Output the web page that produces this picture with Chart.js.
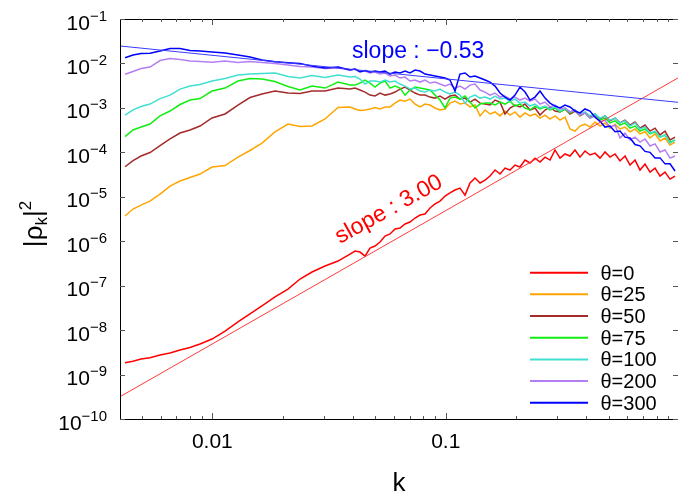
<!DOCTYPE html>
<html><head><meta charset="utf-8">
<script src="https://cdn.jsdelivr.net/npm/chart.js@4"></script>
<style>html,body{margin:0;padding:0;background:#fff;}canvas{display:block;}</style>
</head><body>
<canvas id="c" width="678" height="498"></canvas>
<script>
// wavenumber k
const k = [0.004227,0.004573,0.004950,0.005408,0.005970,0.006589,0.007272,0.008027,0.008858,0.009970,0.01134,0.01288,0.01450,0.01632,0.01856,0.02110,0.02375,0.02674,0.03040,0.03456,
0.03890,0.04088,0.04293,0.04510,0.04738,0.04978,0.05231,0.05494,0.05774,0.06066,0.06371,0.06693,0.07031,0.07388,0.07761,0.08153,0.08565,0.08999,0.09454,0.09931,
0.1043,0.1096,0.1151,0.1210,0.1271,0.1335,0.1403,0.1474,0.1548,0.1627,0.1709,0.1795,0.1886,0.1981,0.2081,0.2187,0.2297,0.2413,0.2535,0.2664,0.2798,0.2939,0.3088,0.3244,0.3408,0.3581,0.3762,0.3952,0.4152,0.4362,0.4582,0.4814,0.5058,0.5314,0.5582,0.5865,0.6161,0.6473,0.6800,0.7144,0.7505,0.7884,0.8283,0.8701,0.9141,0.9603];

const theta0 = [1.85e-9,2.0e-9,2.24e-9,2.4e-9,2.75e-9,3.05e-9,3.57e-9,4.06e-9,4.86e-9,6.3e-9,9.5e-9,1.53e-8,2.31e-8,3.49e-8,5.57e-8,8.4e-8,1.41e-7,2.03e-7,2.77e-7,3.58e-7,
5.15e-7,6.0e-7,5.7e-7,4.64e-7,7.0e-7,7.8e-7,9.6e-7,1.31e-6,1.46e-6,1.88e-6,1.98e-6,2.44e-6,2.71e-6,3.33e-6,3.89e-6,4.1e-6,5.6e-6,6.9e-6,8.0e-6,1.04e-5,
1.22e-5,1.42e-5,1.57e-5,1.09e-5,2.04e-5,2.64e-5,2.04e-5,2.38e-5,2.93e-5,4.0e-5,3.25e-5,4.43e-5,4.0e-5,5.18e-5,4.67e-5,6.7e-5,5.75e-5,7.4e-5,6.05e-5,7.8e-5,6.7e-5,1.13e-4,7.4e-5,9.2e-5,8.25e-5,1.13e-4,7.8e-5,1.07e-4,8.7e-5,9.6e-5,7.4e-5,1.02e-4,7.8e-5,9.2e-5,6.4e-5,8.25e-5,5.18e-5,6.7e-5,4.0e-5,5.45e-5,3.6e-5,4.43e-5,2.93e-5,3.6e-5,2.5e-5,2.93e-5];

const theta25 = [3.7e-6,5.3e-6,6.5e-6,8.0e-6,1.15e-5,1.74e-5,2.26e-5,2.71e-5,3.25e-5,4.67e-5,5.05e-5,7.8e-5,1.1e-4,1.62e-4,2.87e-4,4.34e-4,3.81e-4,3.91e-4,5.63e-4,1.02e-3,
1.05e-3,9.45e-4,8.7e-4,8.97e-4,9.45e-4,1.02e-3,9.45e-4,1.05e-3,1.05e-3,1.28e-3,1.5e-3,1.42e-3,1.58e-3,1.22e-3,1.05e-3,1.22e-3,1.16e-3,9.95e-4,8.97e-4,9.45e-4,
1.28e-3,1.42e-3,1.22e-3,1.28e-3,1.05e-3,1.16e-3,6.6e-4,8.97e-4,7.3e-4,8.1e-4,6.6e-4,8.5e-4,6.9e-4,8.1e-4,6.2e-4,7.7e-4,6.6e-4,7.3e-4,5.9e-4,6.9e-4,5.6e-4,6.6e-4,5.3e-4,6.2e-4,3.35e-4,3.0e-4,3.9e-4,4.3e-4,3.7e-4,4.8e-4,3.9e-4,4.6e-4,3.5e-4,4.3e-4,3.35e-4,3.7e-4,2.9e-4,3.35e-4,2.6e-4,2.9e-4,2.1e-4,2.6e-4,1.8e-4,2.1e-4,1.46e-4,1.7e-4];

const theta50 = [4.74e-5,6.5e-5,8.25e-5,9.9e-5,1.42e-4,2.0e-4,2.72e-4,3.18e-4,3.91e-4,5.93e-4,7.3e-4,1.16e-3,1.71e-3,2.05e-3,2.39e-3,2.16e-3,2.1e-3,2.39e-3,2.39e-3,2.79e-3,
2.65e-3,2.79e-3,2.52e-3,2.27e-3,1.94e-3,1.85e-3,2.16e-3,1.94e-3,2.05e-3,2.27e-3,2.65e-3,2.94e-3,2.52e-3,2.16e-3,1.94e-3,1.94e-3,1.75e-3,1.66e-3,1.85e-3,1.58e-3,
1.85e-3,1.94e-3,1.58e-3,1.66e-3,1.35e-3,1.58e-3,1.28e-3,1.22e-3,1.16e-3,1.5e-3,1.35e-3,7.3e-4,9.95e-4,1.16e-3,1.05e-3,1.22e-3,8.97e-4,9.95e-4,6.9e-4,8.97e-4,1.05e-3,8.5e-4,8.1e-4,9.45e-4,7.3e-4,8.5e-4,6.6e-4,7.7e-4,6.2e-4,7.3e-4,5.6e-4,6.6e-4,5.1e-4,5.9e-4,4.6e-4,5.3e-4,4.1e-4,4.8e-4,3.5e-4,4.1e-4,3.0e-4,3.5e-4,2.46e-4,3.0e-4,1.9e-4,2.2e-4];

const theta75 = [2.25e-4,3.18e-4,3.72e-4,4.34e-4,6.6e-4,8.5e-4,1.19e-3,1.5e-3,1.62e-3,2.39e-3,2.79e-3,4.02e-3,4.57e-3,4.46e-3,3.91e-3,3.02e-3,2.52e-3,3.1e-3,2.79e-3,3.81e-3,
3.26e-3,3.26e-3,3.62e-3,4.23e-3,3.62e-3,2.94e-3,3.62e-3,4.02e-3,2.79e-3,3.1e-3,2.79e-3,1.94e-3,2.52e-3,2.94e-3,2.79e-3,2.65e-3,2.52e-3,1.94e-3,1.5e-3,9.95e-4,
1.66e-3,1.75e-3,1.58e-3,1.85e-3,1.35e-3,9.95e-4,1.22e-3,1.28e-3,1.28e-3,1.16e-3,1.35e-3,1.22e-3,1.42e-3,1.1e-3,1.22e-3,9.95e-4,8.97e-4,1.1e-3,9.45e-4,1.05e-3,8.97e-4,9.95e-4,8.1e-4,9.45e-4,7.7e-4,8.97e-4,6.9e-4,7.7e-4,5.9e-4,6.6e-4,5.3e-4,5.9e-4,4.6e-4,5.1e-4,4.1e-4,4.6e-4,3.5e-4,3.9e-4,3.0e-4,3.35e-4,2.6e-4,2.9e-4,2.2e-4,2.46e-4,1.7e-4,1.9e-4];

const theta100 = [6.9e-4,9.0e-4,1.075e-3,1.22e-3,1.62e-3,1.94e-3,2.65e-3,3.1e-3,3.35e-3,4.02e-3,4.57e-3,5.48e-3,5.77e-3,5.93e-3,6.08e-3,5.07e-3,4.69e-3,5.34e-3,4.82e-3,5.48e-3,
4.94e-3,5.07e-3,4.46e-3,3.44e-3,4.02e-3,4.02e-3,3.81e-3,4.23e-3,3.81e-3,4.02e-3,3.44e-3,3.1e-3,2.65e-3,2.79e-3,2.39e-3,2.27e-3,2.52e-3,2.39e-3,2.65e-3,2.27e-3,
2.05e-3,2.27e-3,1.94e-3,1.28e-3,1.75e-3,1.94e-3,1.66e-3,1.75e-3,1.58e-3,1.85e-3,1.58e-3,1.66e-3,1.42e-3,1.58e-3,1.28e-3,1.35e-3,1.1e-3,1.22e-3,9.95e-4,1.1e-3,9.45e-4,1.05e-3,8.5e-4,9.95e-4,8.1e-4,8.97e-4,7.3e-4,8.1e-4,6.6e-4,7.3e-4,5.9e-4,6.6e-4,5.3e-4,5.9e-4,4.6e-4,5.1e-4,3.9e-4,4.6e-4,3.35e-4,3.7e-4,2.7e-4,3.0e-4,2.2e-4,2.46e-4,1.6e-4,1.9e-4];

const theta200 = [5.7e-3,6.6e-3,7.7e-3,8.3e-3,1.16e-2,1.29e-2,1.23e-2,1.13e-2,1.10e-2,1.07e-2,1.13e-2,1.05e-2,1.10e-2,1.05e-2,9.95e-3,9.2e-3,8.5e-3,8.3e-3,7.7e-3,7.9e-3,
7.1e-3,7.5e-3,6.4e-3,6.75e-3,6.1e-3,6.4e-3,5.77e-3,6.1e-3,5.2e-3,5.48e-3,4.69e-3,4.94e-3,4.02e-3,4.23e-3,3.81e-3,4.23e-3,3.62e-3,3.81e-3,3.44e-3,3.1e-3,
3.44e-3,2.79e-3,3.1e-3,2.65e-3,3.26e-3,3.44e-3,2.52e-3,2.27e-3,1.94e-3,2.16e-3,1.75e-3,1.85e-3,1.58e-3,1.75e-3,1.5e-3,1.66e-3,1.42e-3,1.58e-3,1.22e-3,1.35e-3,1.05e-3,1.16e-3,9.45e-4,9.95e-4,8.1e-4,8.97e-4,6.9e-4,7.7e-4,5.9e-4,6.6e-4,4.8e-4,5.3e-4,3.7e-4,4.1e-4,2.1e-4,2.7e-4,1.9e-4,2.2e-4,1.7e-4,2.0e-4,1.39e-4,1.55e-4,1.02e-4,1.13e-4,7.4e-5,8.25e-5];

const theta300 = [1.34e-2,1.55e-2,1.67e-2,1.69e-2,1.9e-2,2.17e-2,2.17e-2,1.95e-2,1.9e-2,1.81e-2,1.71e-2,1.55e-2,1.4e-2,1.2e-2,1.09e-2,1.04e-2,9.95e-3,8.7e-3,7.9e-3,8.3e-3,
7.1e-3,7.5e-3,6.5e-3,6.9e-3,6.4e-3,6.75e-3,6.4e-3,6.75e-3,5.77e-3,6.4e-3,6.1e-3,6.75e-3,6.1e-3,7.1e-3,6.75e-3,5.77e-3,5.48e-3,5.2e-3,4.94e-3,4.69e-3,
4.23e-3,2.39e-3,5.77e-3,6.1e-3,4.94e-3,5.2e-3,4.69e-3,4.23e-3,3.81e-3,3.1e-3,2.16e-3,1.75e-3,1.5e-3,1.94e-3,2.94e-3,2.27e-3,1.5e-3,1.75e-3,2.39e-3,1.66e-3,1.28e-3,1.1e-3,9.95e-4,1.16e-3,1.05e-3,8.5e-4,7.7e-4,9.45e-4,8.5e-4,6.2e-4,5.0e-4,3.7e-4,3.9e-4,2.9e-4,3.0e-4,2.2e-4,2.1e-4,1.5e-4,1.4e-4,1.05e-4,1.0e-4,7.5e-5,7.5e-5,5.5e-5,5.5e-5,3.8e-5];

// power-law guide lines
const fitK = [0.00402, 0.989];
const fitLow = [2.47e-2, 1.335e-3];   // slope -0.53
const fitHigh = [3.17e-10, 4.72e-3];  // slope 3.00

const seriesLabels = ['θ=0','θ=25','θ=50','θ=75','θ=100','θ=200','θ=300'];
const seriesColors = ['#ff0000','#ffa500','#a52a2a','#11ee11','#40e0d0','#b47ff2','#0000ff'];
const seriesData = [theta0, theta25, theta50, theta75, theta100, theta200, theta300];

const xMajorTicks = [0.01, 0.1];
const xTickLabels = ['0.01', '0.1'];
const xMinorTicks = [0.005,0.006,0.007,0.008,0.009,0.02,0.03,0.04,0.05,0.06,0.07,0.08,0.09,0.2,0.3,0.4,0.5,0.6,0.7,0.8,0.9];
const yTickExponents = [-1,-2,-3,-4,-5,-6,-7,-8,-9,-10];

const FONT = '"Liberation Sans", Arial, Helvetica, sans-serif';

const datasets = seriesData.map((arr, i) => ({
  label: seriesLabels[i],
  data: k.map((kv, j) => ({x: kv, y: arr[j]})),
  borderColor: seriesColors[i],
  borderWidth: 1.5,
  pointRadius: 0,
  tension: 0,
  fill: false,
  order: 7 - i + 1
}));
datasets.push({
  label: 'fit -0.53',
  data: fitK.map((kv, j) => ({x: kv, y: fitLow[j]})),
  borderColor: '#3a3aff', borderWidth: 1, pointRadius: 0, fill: false, order: 0
});
datasets.push({
  label: 'fit 3.00',
  data: fitK.map((kv, j) => ({x: kv, y: fitHigh[j]})),
  borderColor: '#ff3a3a', borderWidth: 1, pointRadius: 0, fill: false, order: 0
});

const decor = {
  id: 'decor',
  afterDraw(chart) {
    const ctx = chart.ctx, xs = chart.scales.x, ys = chart.scales.y, a = chart.chartArea;
    ctx.save();
    // frame
    ctx.strokeStyle = '#000'; ctx.lineWidth = 1;
    ctx.beginPath();
    ctx.moveTo(a.left + 0.5, a.top); ctx.lineTo(a.left + 0.5, a.bottom + 1);
    ctx.moveTo(a.left, a.top + 0.5); ctx.lineTo(a.right, a.top + 0.5);
    ctx.moveTo(a.left, a.bottom + 0.5); ctx.lineTo(a.right, a.bottom + 0.5);
    ctx.stroke();
    // ticks
    ctx.strokeStyle = '#555';
    ctx.beginPath();
    xMajorTicks.forEach(v => {
      const x = Math.round(xs.getPixelForValue(v)) + 0.5;
      ctx.moveTo(x, a.bottom); ctx.lineTo(x, a.bottom - 6);
      ctx.moveTo(x, a.top); ctx.lineTo(x, a.top + 6);
    });
    xMinorTicks.forEach(v => {
      const x = Math.round(xs.getPixelForValue(v)) + 0.5;
      ctx.moveTo(x, a.bottom); ctx.lineTo(x, a.bottom - 3);
      ctx.moveTo(x, a.top); ctx.lineTo(x, a.top + 3);
    });
    yTickExponents.forEach(e => {
      const y = Math.round(ys.getPixelForValue(Math.pow(10, e))) + 0.5;
      ctx.moveTo(a.left, y); ctx.lineTo(a.left + 5, y);
      ctx.moveTo(a.right, y); ctx.lineTo(a.right - 5, y);
    });
    ctx.stroke();
    // x tick labels
    ctx.fillStyle = '#000';
    ctx.font = '21px ' + FONT;
    ctx.textAlign = 'center'; ctx.textBaseline = 'alphabetic';
    xMajorTicks.forEach((v, i) => {
      ctx.fillText(xTickLabels[i], xs.getPixelForValue(v), 448);
    });
    // y tick labels 10^e
    yTickExponents.forEach(e => {
      const y = ys.getPixelForValue(Math.pow(10, e));
      const exp = '\u2212' + Math.abs(e);
      ctx.font = '21px ' + FONT;
      const wb = ctx.measureText('10').width;
      ctx.font = '15px ' + FONT;
      const we = ctx.measureText(exp).width;
      const x0 = 107 - wb - we;
      ctx.textAlign = 'left';
      ctx.font = '21px ' + FONT;
      ctx.fillText('10', x0, y + 10.5);
      ctx.font = '15px ' + FONT;
      ctx.fillText(exp, x0 + wb, y + 1.5);
    });
    // x title
    ctx.font = '26px ' + FONT;
    ctx.textAlign = 'center';
    ctx.fillText('k', (a.left + a.right) / 2, 491);
    // y title |ρk|^2
    ctx.save();
    ctx.translate(42, 224);
    ctx.rotate(-Math.PI / 2);
    ctx.textAlign = 'left';
    ctx.font = '26px ' + FONT;
    const p1 = '|\u03c1';
    const w1 = ctx.measureText(p1).width;
    ctx.font = '17px ' + FONT;
    const wk = ctx.measureText('k').width;
    ctx.font = '26px ' + FONT;
    const w2 = ctx.measureText('|').width;
    ctx.font = '17px ' + FONT;
    const w3 = ctx.measureText('2').width;
    let xx = -(w1 + wk + w2 + w3) / 2;
    ctx.font = '26px ' + FONT; ctx.fillText(p1, xx, 0); xx += w1;
    ctx.font = '17px ' + FONT; ctx.fillText('k', xx, 5); xx += wk;
    ctx.font = '26px ' + FONT; ctx.fillText('|', xx, 0); xx += w2;
    ctx.font = '17px ' + FONT; ctx.fillText('2', xx, -11);
    ctx.restore();
    // slope annotations
    ctx.fillStyle = '#0000ff';
    ctx.font = '23px ' + FONT;
    ctx.textAlign = 'left';
    ctx.fillText('slope : \u22120.53', 352, 58);
    ctx.save();
    ctx.translate(340, 244);
    ctx.rotate(-29 * Math.PI / 180);
    ctx.fillStyle = '#ff0000';
    ctx.fillText('slope : 3.00', 0, 0);
    ctx.restore();
    // legend
    ctx.font = '20px ' + FONT;
    seriesLabels.forEach((lab, i) => {
      const y = 272.7 + i * 21.67;
      ctx.strokeStyle = seriesColors[i]; ctx.lineWidth = 2;
      ctx.beginPath(); ctx.moveTo(530, y); ctx.lineTo(588, y); ctx.stroke();
      ctx.fillStyle = '#000';
      ctx.fillText(lab, 600.5, y + 7);
    });
    ctx.restore();
  }
};

new Chart(document.getElementById('c'), {
  type: 'line',
  data: { datasets },
  options: {
    responsive: false,
    devicePixelRatio: 1,
    animation: false,
    layout: { padding: { left: 120, top: 19, right: 0, bottom: 79 } },
    plugins: { legend: { display: false }, tooltip: { enabled: false } },
    scales: {
      x: { type: 'logarithmic', min: 0.004022, max: 0.989, display: false },
      y: { type: 'logarithmic', min: 1e-10, max: 1e-1, display: false }
    }
  },
  plugins: [decor]
});
</script>
</body></html>
